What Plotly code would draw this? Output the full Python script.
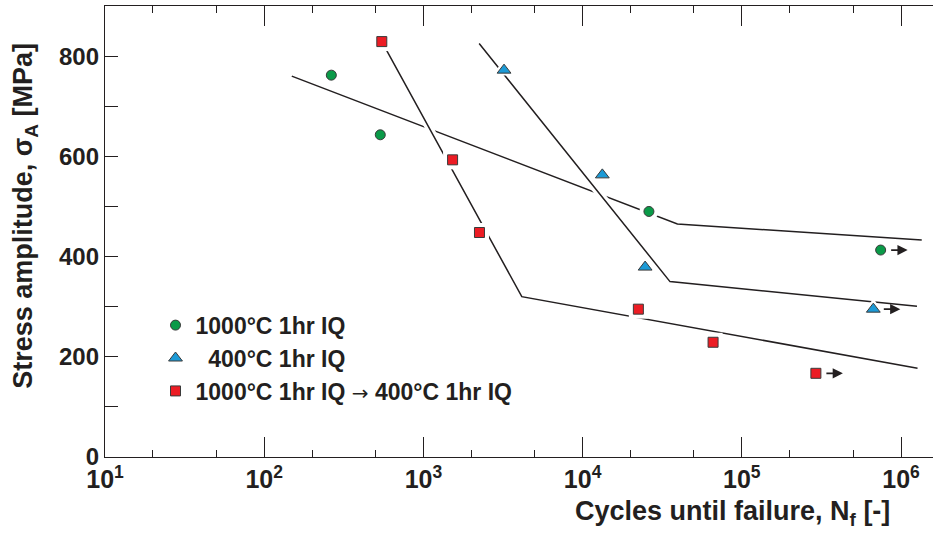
import math
import plotly.graph_objects as go

# ---- data ----
green_x = [264, 536, 26100, 745000]
green_y = [762, 643, 490, 413]
blue_x = [3210, 13300, 24700, 670000]
blue_y = [772, 563, 379, 295]
red_x = [548, 1525, 2250, 22400, 66000, 292000]
red_y = [829, 593, 448, 295, 229, 167]

green_fit_x = [149, 39400, 1.35e6]
green_fit_y = [760, 465, 433]
blue_fit_x = [2240, 35400, 1.26e6]
blue_fit_y = [825, 350, 301]
red_fit_x = [548, 4150, 1.27e6]
red_fit_y = [829, 320, 177]

# run-outs (no failure)
runout_x = [745000, 670000, 292000]
runout_y = [413, 295, 167]

ARROW = "<span style=\"font-family:'DejaVu Sans';font-weight:normal;font-size:20px\">→</span>"
names = ["1000°C 1hr IQ", "\u00a0\u00a0400°C 1hr IQ", "1000°C 1hr IQ " + ARROW + " 400°C 1hr IQ"]
colors = ["#0a9a48", "#1c9ad6", "#ec1c24"]
symbols = ["circle", "triangle-up", "square"]
sizes = [10, 12, 10]

INK = "#231f20"
FONT = "Liberation Sans, Arial, Helvetica, sans-serif"

fig = go.Figure()

# fit lines: green first, then red and blue with white halo
fig.add_trace(go.Scatter(x=green_fit_x, y=green_fit_y, mode="lines",
                         line=dict(color=INK, width=1.5), showlegend=False, hoverinfo="skip"))
for fx, fy in [(red_fit_x, red_fit_y), (blue_fit_x, blue_fit_y)]:
    fig.add_trace(go.Scatter(x=fx, y=fy, mode="lines",
                             line=dict(color="white", width=8), showlegend=False, hoverinfo="skip"))
    fig.add_trace(go.Scatter(x=fx, y=fy, mode="lines",
                             line=dict(color=INK, width=1.5), showlegend=False, hoverinfo="skip"))

series = [(green_x, green_y), (blue_x, blue_y), (red_x, red_y)]
# white halos around markers
for (xs, ys), sym, sz in zip(series, symbols, sizes):
    fig.add_trace(go.Scatter(x=xs, y=ys, mode="markers",
                             marker=dict(symbol=sym, size=sz + 9, color="white", line=dict(width=0)),
                             showlegend=False, hoverinfo="skip"))
for i, ((xs, ys), sym, sz, col, nm) in enumerate(zip(series, symbols, sizes, colors, names)):
    fig.add_trace(go.Scatter(x=xs, y=ys, mode="markers", name=nm, legendgroup=f"g{i}",
                             marker=dict(symbol=sym, size=sz, color=col,
                                         line=dict(color="#3a3a3a", width=1))))

for rx, ry in zip(runout_x, runout_y):
    fig.add_annotation(x=math.log10(rx), y=ry, xref="x", yref="y",
                       text="", showarrow=True, arrowhead=2, arrowsize=1.2, arrowwidth=1.7,
                       arrowcolor=INK, xshift=27, ax=-18, ay=0)

fig.add_annotation(text="Cycles until failure, N<sub>f</sub> [-]", xref="paper", yref="paper",
                   x=0.758, y=-0.125, xanchor="center", yanchor="middle", showarrow=False,
                   font=dict(family=FONT, size=27, color=INK, weight="bold"))
fig.add_annotation(text="Stress amplitude, σ<sub>A</sub> [MPa]", xref="paper", yref="paper",
                   x=-0.0966, y=0.535, xanchor="center", yanchor="middle", showarrow=False,
                   textangle=-90, font=dict(family=FONT, size=27, color=INK, weight="bold"))

xt_vals = [10, 100, 1000, 10000, 100000, 1000000]
xt_text = ["10<sup>1</sup>", "10<sup>2</sup>", "10<sup>3</sup>", "10<sup>4</sup>", "10<sup>5</sup>", "10<sup>6</sup>"]

fig.update_layout(
    width=933, height=533,
    margin=dict(l=105, r=0, t=6, b=76),
    paper_bgcolor="white", plot_bgcolor="white",
    font=dict(family=FONT, color=INK, size=24, weight="bold"),
    xaxis=dict(type="log", range=[1, 6.201], showgrid=False, zeroline=False,
               showline=True, linecolor=INK, linewidth=1.3, mirror="ticks",
               ticks="inside", ticklen=20, tickwidth=1.2, tickcolor=INK,
               tickvals=xt_vals, ticktext=xt_text,
               tickfont=dict(family=FONT, size=25, color=INK, weight="bold"),
               minor=dict(ticks="inside", ticklen=7, tickwidth=1, tickcolor=INK, showgrid=False)),
    yaxis=dict(range=[0, 900], showgrid=False, zeroline=False,
               showline=True, linecolor=INK, linewidth=1.3,
               ticks="inside", ticklen=13, tickwidth=1.2, tickcolor=INK,
               tickvals=[0, 200, 400, 600, 800],
               tickfont=dict(family=FONT, size=24, color=INK, weight="bold"),
               minor=dict(ticks="inside", ticklen=13, tickwidth=1.2, tickcolor=INK,
                          tickvals=[100, 300, 500, 700], showgrid=False)),
    yaxis2=dict(range=[0, 900], overlaying="y", side="right", anchor="x",
                showline=False, showgrid=False, zeroline=False, showticklabels=False,
                ticks="inside", ticklen=9, tickwidth=1.2, tickcolor=INK,
                tickvals=[100, 200, 300, 400, 500, 600, 700, 800]),
    legend=dict(x=0.061, y=0.34, xanchor="left", yanchor="top", bgcolor="rgba(0,0,0,0)",
                font=dict(family=FONT, size=23, color=INK, weight="bold"),
                tracegroupgap=0, itemwidth=30),
    showlegend=True,
)

fig.write_html("out.html")
